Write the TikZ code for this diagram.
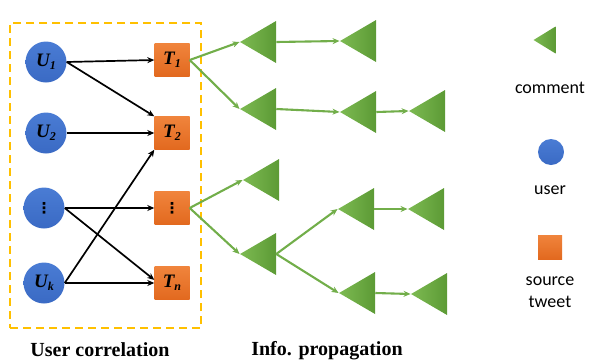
\documentclass[tikz,border=0pt]{standalone}
\usepackage{fontspec}
\setmainfont{Liberation Serif}
\newfontfamily\legendfont{Carlito}
\newfontfamily\dotsfont{DejaVu Sans}
\usetikzlibrary{shapes.geometric,arrows.meta}
\definecolor{ublue}{HTML}{3A6AC4}
\definecolor{ubluelight}{HTML}{4A7CD4}
\definecolor{torange}{HTML}{F0843C}
\definecolor{torangedark}{HTML}{E2691F}
\definecolor{cgreen}{HTML}{72AE4A}
\definecolor{cgreenlight}{HTML}{7DBA52}
\definecolor{cgreendark}{HTML}{5C9A35}
\definecolor{boxgold}{HTML}{FFC000}
\tikzset{
  usernode/.style={circle,inner sep=0pt,minimum size=41pt,top color=ubluelight,bottom color=ublue,draw=none,font=\fontsize{19}{19}\selectfont\bfseries\itshape},
  tweetnode/.style={rectangle,inner sep=0pt,minimum width=35pt,minimum height=33pt,top color=torange,bottom color=torangedark,draw=none,font=\fontsize{19}{19}\selectfont\bfseries\itshape},
  commentnode/.style={isosceles triangle,isosceles triangle stretches,shape border rotate=180,inner sep=0pt,minimum width=42pt,minimum height=36pt,left color=cgreenlight,right color=cgreendark,draw=none},
  ulink/.style={-{Stealth[length=7pt,width=6pt]},line width=1.7pt,black},
  glink/.style={-{Stealth[length=7pt,width=6pt]},line width=2.1pt,cgreen},
  caption/.style={font=\fontsize{20}{20}\selectfont\bfseries},
  legendtext/.style={font=\legendfont\fontsize{18}{22}\selectfont,align=center}
}
\newcommand{\sub}[1]{\raisebox{-0.35ex}{\fontsize{12}{12}\selectfont #1}}
\newcommand{\vdts}{{\dotsfont\fontsize{15}{15}\selectfont\bfseries ⋮}}
\begin{document}
\begin{tikzpicture}[x=1pt,y=-1pt]
\useasboundingbox (0,0) rectangle (593,362);
% dashed box
\node[draw=boxgold,dash pattern=on 8pt off 5pt,line width=1.9pt,minimum width=191pt,minimum height=305pt,inner sep=0pt] (box) at (105.5,175.5) {};
% users
\node[usernode] (U1) at (46,62) {U\sub{1}};
\node[usernode] (U2) at (46,133) {U\sub{2}};
\node[usernode] (U3) at (44,208) {\vdts};
\node[usernode] (Uk) at (44,283) {U\sub{k}};
% tweets
\node[tweetnode] (T1) at (172,60) {T\sub{1}};
\node[tweetnode] (T2) at (172,133) {T\sub{2}};
\node[tweetnode] (T3) at (172,208) {\vdts};
\node[tweetnode] (Tn) at (172,283) {T\sub{n}};
% user links
\draw[ulink] (U1.east) -- (T1.west);
\draw[ulink] (U1.east) -- (T2.north west);
\draw[ulink] (U2.east) -- (T2.west);
\draw[ulink] (U3.east) -- (T3.west);
\draw[ulink] (U3.east) -- (Tn.170);
\draw[ulink] (Uk.east) -- (T2.south west);
\draw[ulink] (Uk.east) -- (Tn.west);
% comments
\node[commentnode] (c1) at (264,42) {};
\node[commentnode] (c2) at (364,41) {};
\node[commentnode] (c3) at (264,109) {};
\node[commentnode] (c4) at (364,112) {};
\node[commentnode] (c5) at (433,111) {};
\node[commentnode] (c6) at (267,180) {};
\node[commentnode] (c7) at (264,254) {};
\node[commentnode] (c8) at (362,209) {};
\node[commentnode] (c9) at (432,209) {};
\node[commentnode] (c10) at (363,293) {};
\node[commentnode] (c11) at (435,294) {};
% propagation links
\draw[glink] (T1.east) -- (c1.apex);
\draw[glink] (T1.east) -- (c3.apex);
\draw[glink] (c1.lower side) -- (c2.apex);
\draw[glink] (c3.lower side) -- (c4.apex);
\draw[glink] (c4.lower side) -- (c5.apex);
\draw[glink] (T3.east) -- (c6.apex);
\draw[glink] (T3.east) -- (c7.apex);
\draw[glink] (c7.lower side) -- (c8.apex);
\draw[glink] (c7.lower side) -- (c10.apex);
\draw[glink] (c8.lower side) -- (c9.apex);
\draw[glink] (c10.lower side) -- (c11.apex);
% captions
\node[caption] (cap1) at (100,350) {User correlation};
\node[caption] (cap2) at (327,351) {Info. propagation};
% legend
\node[commentnode,minimum width=27pt,minimum height=22pt] (lc) at (548,40) {};
\node[legendtext] (lct) at (550,88) {comment};
\node[circle,inner sep=0pt,minimum size=26pt,top color=ubluelight,bottom color=ublue] (lu) at (551,152) {};
\node[legendtext] (lut) at (550,190) {user};
\node[rectangle,inner sep=0pt,minimum size=24pt,top color=torange,bottom color=torangedark] (lt) at (550,247) {};
\node[legendtext] (ltt) at (550,292) {source\\tweet};
\end{tikzpicture}
\end{document}
